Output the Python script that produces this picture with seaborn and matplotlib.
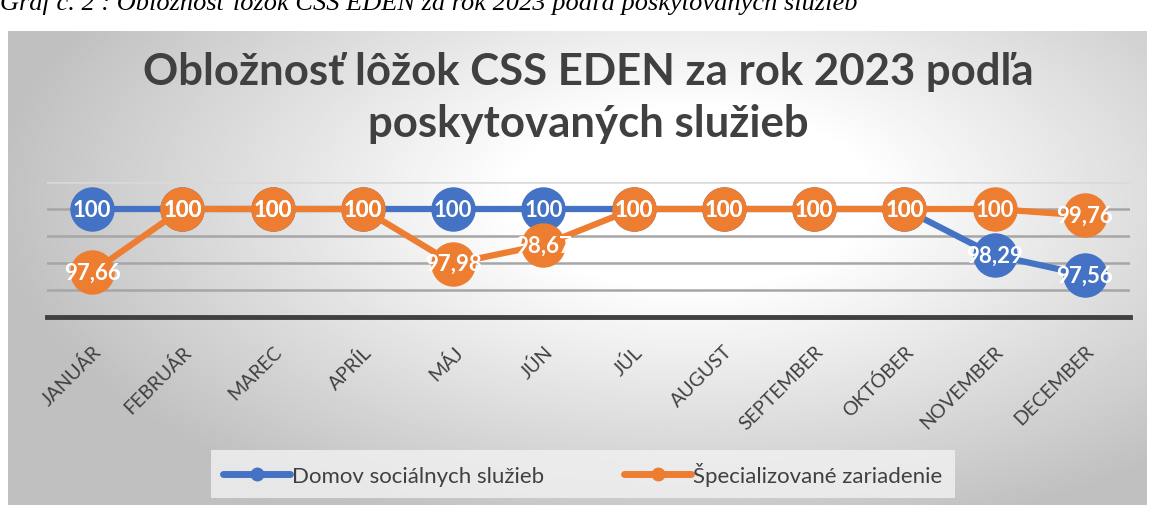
import numpy as np
import pandas as pd
from matplotlib import pyplot as plt
import seaborn as sns

months = ["JANUÁR", "FEBRUÁR", "MAREC", "APRÍL", "MÁJ", "JÚN", "JÚL",
          "AUGUST", "SEPTEMBER", "OKTÓBER", "NOVEMBER", "DECEMBER"]
dss = [100, 100, 100, 100, 100, 100, 100, 100, 100, 100, 98.29, 97.56]
sz = [97.66, 100, 100, 100, 97.98, 98.67, 100, 100, 100, 100, 100, 99.76]
series_names = ["Domov sociálnych služieb", "Špecializované zariadenie"]
colors = ["#4472C4", "#ED7D31"]

df = pd.DataFrame({
    "month": list(range(len(months))) * 2,
    "value": dss + sz,
    "series": [series_names[0]] * len(months) + [series_names[1]] * len(months),
})

sns.set_theme(style="white")
plt.rcParams['font.family'] = ['Lato', 'DejaVu Sans']

fig = plt.figure(figsize=(11.5, 5.06), dpi=100)

# chart background (grey path gradient, white towards the middle)
bg = fig.add_axes([8 / 1150, 0, 1139 / 1150, 474 / 506])
yy, xx = np.mgrid[0:1:300j, 0:1:600j]
d = np.sqrt(((xx - 0.6) / 0.62) ** 2 + ((yy - 0.35) / 0.75) ** 2)
shade = 1 - 0.25 * np.clip((d - 0.25) / 0.75, 0, 1)
bg.imshow(shade, cmap="gray", vmin=0, vmax=1, aspect="auto", extent=[0, 1, 0, 1])
bg.axis("off")

# caption above the chart, cut off at the top
fig.text(0, 1 - 10 / 506, "Graf č. 2 : Obložnosť lôžok CSS EDEN za rok 2023 podľa poskytovaných služieb",
         family="Liberation Serif", style="italic", fontsize=19, color="black", va="baseline")

ax = fig.add_axes([47 / 1150, (506 - 318) / 506, 1083 / 1150, 135 / 506])
ax.set_facecolor("none")
sns.lineplot(data=df, x="month", y="value", hue="series", palette=colors, ax=ax,
             linewidth=4.5, marker="o", markersize=32, markeredgewidth=0,
             legend=False, clip_on=False)
for line in ax.lines:
    line.set_clip_on(False)

ax.set_xlim(-0.5, len(months) - 0.5)
ax.set_ylim(96, 101)
ax.set_yticks([96, 97, 98, 99, 100, 101])
ax.yaxis.grid(True, color="#a6a6a6", linewidth=1.8)
ax.get_ygridlines()[-1].set_color("#d9d9d9")
ax.get_ygridlines()[0].set_visible(False)
ax.set_axisbelow(True)
ax.tick_params(left=False, labelleft=False, bottom=False)
for s in ["top", "right", "left"]:
    ax.spines[s].set_visible(False)
ax.spines["bottom"].set_color("#404040")
ax.spines["bottom"].set_linewidth(3.5)
ax.set_xticks(range(len(months)))
ax.set_xticklabels(months, rotation=45, ha="right", rotation_mode="anchor",
                   fontsize=14, color="#404040")
ax.tick_params(axis="x", pad=12)
ax.set_xlabel("")
ax.set_ylabel("")

for vals in [dss, sz]:
    for i, v in enumerate(vals):
        txt = "100" if v == 100 else f"{v:.2f}".replace(".", ",")
        ax.text(i, v, txt, ha="center", va="center", color="white",
                fontsize=16, fontweight="bold", zorder=5)

fig.text(588 / 1150, 1 - 98 / 506, "Obložnosť lôžok CSS EDEN za rok 2023 podľa\nposkytovaných služieb",
         ha="center", va="center", fontsize=31.5, fontweight="bold", color="#404040", linespacing=1.35)

# legend box
handles = [plt.Line2D([], [], color=c, linewidth=5, marker="o", markersize=9) for c in colors]
leg = fig.legend(handles, series_names, loc="center", bbox_to_anchor=(583 / 1150, 1 - 475 / 506),
                 ncol=2, frameon=True, fontsize=16, handlelength=3.0, handletextpad=0.1,
                 columnspacing=3.6, borderpad=0.55, labelcolor="#404040")
leg.get_frame().set_facecolor("#f2f2f2")
leg.get_frame().set_edgecolor("none")
leg.get_frame().set_alpha(0.8)
leg.get_frame().set_boxstyle("square", pad=0)

fig.savefig("out.png", dpi=100)
